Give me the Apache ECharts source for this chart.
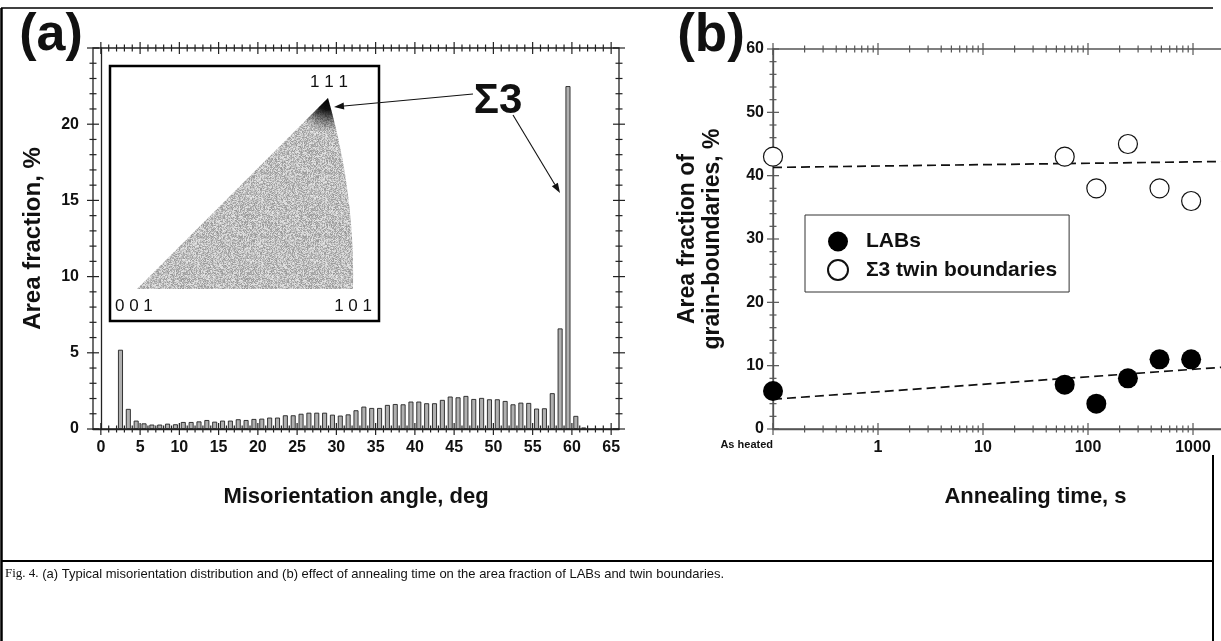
<!DOCTYPE html>
<html>
<head>
<meta charset="utf-8">
<script src="https://cdn.jsdelivr.net/npm/echarts@6/dist/echarts.min.js"></script>
<style>
html, body { margin: 0; padding: 0; background: #fff; }
#chart { width: 1221px; height: 641px; }
</style>
</head>
<body>
<div id="chart"></div>
<script>
// (a) misorientation distribution, 1 deg bins (left edge of each bin)
const binStart = [2, 3, 4, 5, 6, 7, 8, 9, 10, 11,
  12, 13, 14, 15, 16, 17, 18, 19, 20, 21,
  22, 23, 24, 25, 26, 27, 28, 29, 30, 31,
  32, 33, 34, 35, 36, 37, 38, 39, 40, 41,
  42, 43, 44, 45, 46, 47, 48, 49, 50, 51,
  52, 53, 54, 55, 56, 57, 58, 59, 60, 61]
const areaFraction = [5.2, 1.32, 0.55, 0.37, 0.29, 0.29, 0.35, 0.31, 0.46, 0.46,
  0.5, 0.59, 0.48, 0.55, 0.55, 0.64, 0.59, 0.66, 0.68, 0.75,
  0.75, 0.9, 0.9, 1.0, 1.07, 1.07, 1.07, 0.94, 0.88, 0.96,
  1.23, 1.47, 1.38, 1.38, 1.58, 1.64, 1.62, 1.8, 1.8, 1.69,
  1.69, 1.91, 2.13, 2.08, 2.17, 1.97, 2.04, 1.95, 1.95, 1.84,
  1.62, 1.73, 1.71, 1.34, 1.36, 2.35, 6.6, 22.5, 0.86, 0.1]
const angleTickLabels = [0, 5, 10, 15, 20, 25, 30, 35, 40, 45, 50, 55, 60, 65]
const fractionTickLabels = [0, 5, 10, 15, 20]

// (b) annealing time, s -- 0.1 is the "As heated" slot at the axis origin
const annealingTime = [0.1, 60, 120, 240, 480, 960]
const labFraction = [6, 7, 4, 8, 11, 11]
const twinFraction = [43, 43, 38, 45, 38, 36]
const labFit = [[0.1, 4.7], [10000, 10.6]]
const twinFit = [[0.1, 41.3], [10000, 42.4]]
const timeTickLabels = [1, 10, 100, 1000]
const gbTickLabels = [0, 10, 20, 30, 40, 50, 60]

const FONT = "'Liberation Sans', Arial, sans-serif"

// tick marks (crossing the frame lines) as [value, isMajor]
const angleTicks = []
for (let v = 0; v <= 65; v++) angleTicks.push([v, v % 5 === 0 ? 1 : 0])
const fractionTicks = []
for (let v = 0; v <= 25; v++) fractionTicks.push([v, v % 5 === 0 ? 1 : 0])
const timeTicks = []
for (let e = -1; e <= 3; e++) {
  for (let d = 1; d <= 9; d++) timeTicks.push([d * Math.pow(10, e), d === 1 ? 1 : 0])
}
timeTicks.push([10000, 1])
const gbTicks = []
for (let v = 0; v <= 60; v += 2) gbTicks.push([v, v % 10 === 0 ? 1 : 0])

function ticksX(axis, ticks, yLo, yHi, color) {
  return {
    type: 'custom', xAxisIndex: axis, yAxisIndex: axis, silent: true, clip: false, z: 4,
    data: ticks.map(t => [t[0], yLo, t[1]]),
    renderItem: function (params, api) {
      const v = api.value(0)
      const len = api.value(2) ? 6 : 3.5
      const p1 = api.coord([v, yLo])
      const p2 = api.coord([v, yHi])
      const style = { stroke: color, lineWidth: 1.2 }
      return {
        type: 'group',
        children: [
          { type: 'line', shape: { x1: p1[0], y1: p1[1] - len, x2: p1[0], y2: p1[1] + len }, style: style },
          { type: 'line', shape: { x1: p2[0], y1: p2[1] - len, x2: p2[0], y2: p2[1] + len }, style: style }
        ]
      }
    }
  }
}

function ticksY(axis, ticks, xSides, color) {
  return {
    type: 'custom', xAxisIndex: axis, yAxisIndex: axis, silent: true, clip: false, z: 4,
    data: ticks.map(t => [xSides[0], t[0], t[1]]),
    renderItem: function (params, api) {
      const v = api.value(1)
      const len = api.value(2) ? 6 : 3.5
      const style = { stroke: color, lineWidth: 1.2 }
      return {
        type: 'group',
        children: xSides.map(xs => {
          const p = api.coord([xs, v])
          return { type: 'line', shape: { x1: p[0] - len, y1: p[1], x2: p[0] + len, y2: p[1] }, style: style }
        })
      }
    }
  }
}

function arrow(x1, y1, x2, y2) {
  const dx = x2 - x1
  const dy = y2 - y1
  const len = Math.hypot(dx, dy)
  const ux = dx / len
  const uy = dy / len
  const bx = x2 - ux * 10
  const by = y2 - uy * 10
  return [
    { type: 'line', z: 12, shape: { x1: x1, y1: y1, x2: bx, y2: by }, style: { stroke: '#111', lineWidth: 1.1 } },
    { type: 'polygon', z: 12, shape: { points: [[x2, y2], [bx - uy * 3.5, by + ux * 3.5], [bx + uy * 3.5, by - ux * 3.5]] }, style: { fill: '#111' } }
  ]
}

// standard stereographic triangle of the inset (001 - 111 - 101, curved 111-101 edge)
function trianglePoints() {
  const pts = [[137, 289], [328, 98]]
  for (let i = 1; i <= 12; i++) {
    const t = i / 12
    const x = (1 - t) * (1 - t) * 328 + 2 * (1 - t) * t * 355 + t * t * 353
    const y = (1 - t) * (1 - t) * 98 + 2 * (1 - t) * t * 192 + t * t * 289
    pts.push([x, y])
  }
  return pts
}

// grainy grey texture for the orientation map (fixed hash, not data)
function grainTexture() {
  const c = document.createElement('canvas')
  c.width = 64
  c.height = 64
  const ctx = c.getContext('2d')
  const img = ctx.createImageData(64, 64)
  for (let y = 0; y < 64; y++) {
    for (let x = 0; x < 64; x++) {
      let h = (x * 374761393 + y * 668265263) | 0
      h = Math.imul(h ^ (h >>> 13), 1274126177)
      h = (h ^ (h >>> 16)) & 255
      const g = 150 + Math.round(h * 0.32)
      const k = (y * 64 + x) * 4
      img.data[k] = g
      img.data[k + 1] = g
      img.data[k + 2] = g
      img.data[k + 3] = 255
    }
  }
  ctx.putImageData(img, 0, 0)
  return c
}

const chart = echarts.init(document.getElementById('chart'))

const labelStyle = { fontFamily: FONT, fontWeight: 'bold', fontSize: 16, color: '#111' }
const nameStyle = { fontFamily: FONT, fontWeight: 'bold', fontSize: 22, color: '#111' }

const option = {
  animation: false,
  backgroundColor: '#fff',
  grid: [
    { left: 93, top: 48, width: 526, height: 381, show: true, borderColor: '#222', borderWidth: 1.3, backgroundColor: 'transparent', containLabel: false, outerBoundsMode: 'none' },
    { left: 773, top: 49, width: 525, height: 380, show: true, borderColor: '#555', borderWidth: 1.3, backgroundColor: 'transparent', containLabel: false, outerBoundsMode: 'none' }
  ],
  xAxis: [
    {
      gridIndex: 0, type: 'value', min: -1, max: 66, interval: 1,
      name: 'Misorientation angle, deg', nameLocation: 'middle', nameGap: 57, nameTextStyle: nameStyle,
      axisLine: { lineStyle: { color: '#222', width: 1.3 } },
      axisTick: { show: false }, splitLine: { show: false },
      axisLabel: Object.assign({ margin: 11, interval: 0, formatter: v => angleTickLabels.indexOf(v) >= 0 ? String(v) : '' }, labelStyle)
    },
    {
      gridIndex: 1, type: 'log', logBase: 10, min: 0.1, max: 10000,
      name: 'Annealing time, s', nameLocation: 'middle', nameGap: 57, nameTextStyle: nameStyle,
      axisLine: { lineStyle: { color: '#555', width: 1.3 } },
      axisTick: { show: false }, splitLine: { show: false }, minorTick: { show: false },
      axisLabel: Object.assign({
        margin: 11,
        formatter: v => {
          const r = Math.round(v)
          return timeTickLabels.indexOf(r) >= 0 && Math.abs(v - r) < 1e-6 ? String(r) : ''
        }
      }, labelStyle)
    }
  ],
  yAxis: [
    {
      gridIndex: 0, type: 'value', min: 0, max: 25, interval: 5,
      name: 'Area fraction, %', nameLocation: 'middle', nameGap: 48, nameRotate: 90,
      nameTextStyle: Object.assign({}, nameStyle, { fontSize: 24 }),
      axisLine: { show: true, lineStyle: { color: '#222', width: 1.3 } },
      axisTick: { show: false }, splitLine: { show: false },
      axisLabel: Object.assign({ margin: 14, formatter: v => fractionTickLabels.indexOf(v) >= 0 ? String(v) : '' }, labelStyle)
    },
    {
      gridIndex: 1, type: 'value', min: 0, max: 60, interval: 10,
      name: 'Area fraction of\ngrain-boundaries, %', nameLocation: 'middle', nameGap: 48, nameRotate: 90,
      nameTextStyle: Object.assign({}, nameStyle, { fontSize: 23, lineHeight: 25 }),
      axisLine: { show: true, lineStyle: { color: '#555', width: 1.3 } },
      axisTick: { show: false }, splitLine: { show: false },
      axisLabel: Object.assign({ margin: 9, formatter: v => gbTickLabels.indexOf(v) >= 0 ? String(v) : '' }, labelStyle)
    }
  ],
  legend: {
    data: ['LABs', 'Σ3 twin boundaries'],
    orient: 'vertical', left: 805, top: 215,
    padding: [16, 12, 11, 22], itemGap: 7, itemWidth: 46, itemHeight: 20,
    borderColor: '#333', borderWidth: 1, backgroundColor: '#fff',
    selectedMode: false,
    textStyle: { fontFamily: FONT, fontWeight: 'bold', fontSize: 21, color: '#111' }
  },
  series: [
    {
      type: 'bar', xAxisIndex: 0, yAxisIndex: 0,
      data: binStart.map((b, i) => [b + 0.5, areaFraction[i]]),
      barWidth: 5,
      itemStyle: { color: '#b0b0b0', borderColor: '#222', borderWidth: 0.9 }
    },
    ticksX(0, angleTicks, 0, 25, '#222'),
    ticksY(0, fractionTicks, [-1, 66], '#222'),
    ticksX(1, timeTicks, 0, 60, '#555'),
    ticksY(1, gbTicks, [0.1], '#555'),
    {
      type: 'line', xAxisIndex: 1, yAxisIndex: 1, data: labFit, showSymbol: false, silent: true, z: 2,
      lineStyle: { color: '#111', width: 1.7, type: [9, 5] }
    },
    {
      type: 'line', xAxisIndex: 1, yAxisIndex: 1, data: twinFit, showSymbol: false, silent: true, z: 2,
      lineStyle: { color: '#111', width: 1.7, type: [9, 5] }
    },
    {
      name: 'LABs', type: 'scatter', xAxisIndex: 1, yAxisIndex: 1, clip: false, z: 6,
      data: annealingTime.map((t, i) => [t, labFraction[i]]),
      symbol: 'circle', symbolSize: 20, itemStyle: { color: '#000', opacity: 1 }
    },
    {
      name: 'Σ3 twin boundaries', type: 'scatter', xAxisIndex: 1, yAxisIndex: 1, clip: false, z: 6,
      data: annealingTime.map((t, i) => [t, twinFraction[i]]),
      symbol: 'circle', symbolSize: 19, itemStyle: { color: '#fff', borderColor: '#111', borderWidth: 1.2, opacity: 1 }
    }
  ],
  graphic: [
    // figure frame and caption rule
    { type: 'line', z: 20, shape: { x1: 1, y1: 8, x2: 1213, y2: 8 }, style: { stroke: '#000', lineWidth: 1.5 } },
    { type: 'line', z: 20, shape: { x1: 1.5, y1: 8, x2: 1.5, y2: 641 }, style: { stroke: '#000', lineWidth: 2.5 } },
    { type: 'line', z: 20, shape: { x1: 1, y1: 561, x2: 1213, y2: 561 }, style: { stroke: '#000', lineWidth: 2 } },
    { type: 'line', z: 20, shape: { x1: 1213, y1: 455, x2: 1213, y2: 641 }, style: { stroke: '#000', lineWidth: 2 } },
    // panel letters
    { type: 'text', z: 20, x: 51, y: 36, style: { text: '(a)', fontFamily: FONT, fontWeight: 'bold', fontSize: 52, fill: '#111', textAlign: 'center', textVerticalAlign: 'middle' } },
    { type: 'text', z: 20, x: 711, y: 36, style: { text: '(b)', fontFamily: FONT, fontWeight: 'bold', fontSize: 53, fill: '#111', textAlign: 'center', textVerticalAlign: 'middle' } },
    // inset inverse pole figure
    { type: 'rect', z: 10, shape: { x: 110, y: 66, width: 269, height: 255 }, style: { fill: '#fff', stroke: '#000', lineWidth: 2.5 } },
    { type: 'polygon', z: 11, shape: { points: trianglePoints() }, style: { fill: { image: grainTexture(), repeat: 'repeat' } } },
    {
      type: 'polygon', z: 11, shape: { points: trianglePoints() },
      style: {
        fill: new echarts.graphic.RadialGradient(328, 98, 34, [
          { offset: 0, color: 'rgba(0,0,0,1)' }, { offset: 0.35, color: 'rgba(0,0,0,0.9)' },
          { offset: 0.7, color: 'rgba(0,0,0,0.35)' }, { offset: 1, color: 'rgba(0,0,0,0)' }
        ], true)
      }
    },
    { type: 'text', z: 12, x: 329, y: 82, style: { text: '1 1 1', fontFamily: FONT, fontSize: 17, fill: '#111', textAlign: 'center', textVerticalAlign: 'middle' } },
    { type: 'text', z: 12, x: 115, y: 306, style: { text: '0 0 1', fontFamily: FONT, fontSize: 17, fill: '#111', textAlign: 'left', textVerticalAlign: 'middle' } },
    { type: 'text', z: 12, x: 372, y: 306, style: { text: '1 0 1', fontFamily: FONT, fontSize: 17, fill: '#111', textAlign: 'right', textVerticalAlign: 'middle' } },
    { type: 'text', z: 12, x: 498, y: 101, style: { text: 'Σ3', fontFamily: FONT, fontWeight: 'bold', fontSize: 42, fill: '#111', textAlign: 'center', textVerticalAlign: 'middle' } },
    ...arrow(473, 94, 334, 107),
    ...arrow(513, 115, 560, 193),
    // "As heated" slot label of panel (b)
    { type: 'text', z: 12, x: 773, y: 445, style: { text: 'As heated', fontFamily: FONT, fontWeight: 'bold', fontSize: 11, fill: '#111', textAlign: 'right', textVerticalAlign: 'middle' } },
    // caption
    {
      type: 'text', z: 20, x: 5, y: 574,
      style: {
        text: '{s|Fig. 4.} (a) Typical misorientation distribution and (b) effect of annealing time on the area fraction of LABs and twin boundaries.',
        fontFamily: FONT, fontSize: 13, fill: '#111', textAlign: 'left', textVerticalAlign: 'middle',
        rich: { s: { fontFamily: "'Liberation Serif', serif", fontSize: 13, fill: '#111' } }
      }
    }
  ]
}

chart.setOption(option)
</script>
</body>
</html>
